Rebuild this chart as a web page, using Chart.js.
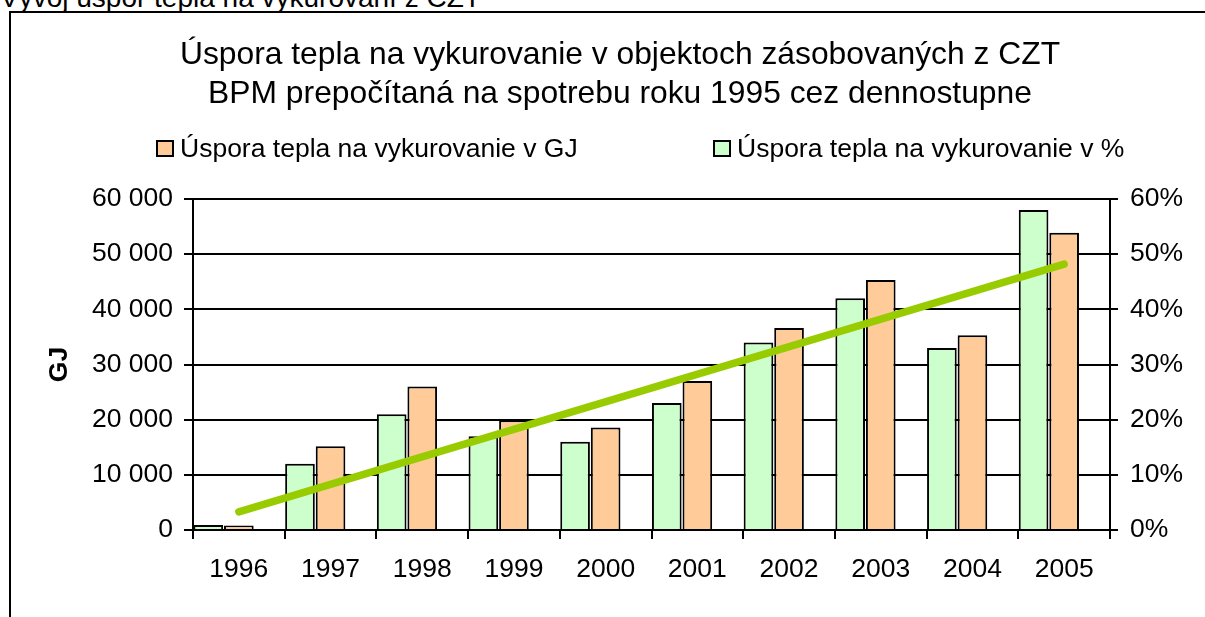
<!DOCTYPE html>
<html>
<head>
<meta charset="utf-8">
<script src="https://cdn.jsdelivr.net/npm/chart.js@4.4.1/dist/chart.umd.min.js"></script>
<style>
html,body{margin:0;padding:0;background:#fff;overflow:hidden;width:1205px;height:617px}
#wrap{position:relative;width:1205px;height:617px;font-family:"Liberation Sans",Arial,sans-serif;color:#000}
#frame{position:absolute;left:9px;top:11px;width:1300px;height:700px;border-left:2px solid #000;border-top:2px solid #000;box-sizing:border-box}
#sheet{position:absolute;left:0px;top:-17px;font-size:28px;line-height:30px;white-space:nowrap}
#c{position:absolute;left:0;top:0}
.lg{position:absolute;font-size:26.5px;line-height:30px;white-space:nowrap;top:133px}
.bx{position:absolute;width:14px;height:13px;border:2px solid #000;top:140px}
</style>
</head>
<body>
<div id="wrap">
  <div id="sheet">Vývoj úspor tepla na vykurovaní z CZT</div>
  <div id="frame"></div>
  <canvas id="c" width="1205" height="617"></canvas>
  <div id="legend"></div>
</div>
<script>
// ---- data ----
const years = ['1996','1997','1998','1999','2000','2001','2002','2003','2004','2005'];
const savingsGJ  = [800, 15200, 26000, 19900, 18600, 27000, 36600, 45300, 35300, 53900];
const savingsPct = [0.9, 12, 21, 17, 16, 23, 34, 42, 33, 58];
const trendGJ    = [3300, null, null, null, null, null, null, null, null, 48200];
const labelGJ  = 'Úspora tepla na vykurovanie v GJ';
const labelPct = 'Úspora tepla na vykurovanie v %';
const titleLines = ['Úspora tepla na vykurovanie v objektoch zásobovaných z CZT',
                    'BPM prepočítaná na spotrebu roku 1995 cez dennostupne'];
const axisTitleLeft = 'GJ';
const gjMax = 60000, gjStep = 10000;
const pctMax = 60, pctStep = 10;

const FONT = '"Liberation Sans", Arial, sans-serif';
const colGJ = '#FFCC99', colPct = '#CCFFCC', colTrend = '#99CC00';

function fmtThousands(v){ return String(v).replace(/\B(?=(\d{3})+(?!\d))/g, ' '); }

Chart.defaults.font.family = FONT;
Chart.defaults.color = '#000';

new Chart(document.getElementById('c'), {
  type: 'bar',
  data: {
    labels: years,
    datasets: [
      { type:'line', label:'Trend', data: trendGJ, yAxisID:'y', borderColor: colTrend, borderWidth:7.5,
        borderCapStyle:'round', pointRadius:0, pointHoverRadius:0, spanGaps:true, fill:false, tension:0, order:-1 },
      { type:'bar', label: labelPct, data: savingsPct, yAxisID:'y1', backgroundColor: colPct,
        borderColor:'#000', borderWidth:2, order:0 },
      { type:'bar', label: labelGJ, data: savingsGJ, yAxisID:'y', backgroundColor: colGJ,
        borderColor:'#000', borderWidth:2, order:0 },
      { type:'bar', label:'', data: [], yAxisID:'y', backgroundColor:'rgba(0,0,0,0)', borderWidth:0, order:0 }
    ]
  },
  options: {
    responsive:false, animation:false, devicePixelRatio:1,
    layout: { padding: { left:35, right:0, top:0, bottom:0 } },
    datasets: { bar: { categoryPercentage:1.0, barPercentage:0.97 } },
    plugins: {
      legend: { display:false },
      tooltip: { enabled:false },
      title: { display:true, text: titleLines, color:'#000',
               font:{ family: FONT, size:31.8, weight:'normal', lineHeight: 38.3/31.8 },
               padding:{ top:36.5, bottom:85.9 } }
    },
    scales: {
      x: {
        offset:true,
        grid:{ display:true, drawOnChartArea:false, drawTicks:true, tickLength:9, color:'#000', lineWidth:2, offset:true },
        border:{ display:true, color:'#000', width:2 },
        ticks:{ color:'#000', font:{ family:FONT, size:26.5 }, padding:15, maxRotation:0, autoSkip:false },
        afterFit: s => { s.height = 87; }
      },
      y: {
        position:'left', min:0, max:gjMax,
        ticks:{ stepSize:gjStep, color:'#000', font:{ family:FONT, size:26.5 }, padding:11, callback: v => fmtThousands(v) },
        grid:{ color:'#000', lineWidth:2, tickLength:9, drawTicks:true },
        border:{ display:true, color:'#000', width:2 },
        title:{ display:true, text: axisTitleLeft, color:'#000', font:{ family:FONT, size:26.5, weight:'bold' }, padding:{ top:9, bottom:0 } },
        afterFit: s => { s.width = 158; }
      },
      y1: {
        position:'right', min:0, max:pctMax,
        ticks:{ stepSize:pctStep, color:'#000', font:{ family:FONT, size:26.5 }, padding:12, callback: v => v + '%' },
        grid:{ drawOnChartArea:false, color:'#000', lineWidth:2, tickLength:8, drawTicks:true },
        border:{ display:true, color:'#000', width:2 },
        afterFit: s => { s.width = 95; }
      }
    }
  }
});

// HTML legend (order as in the reference)
const legendItems = [
  { text: labelGJ,  color: colGJ,  x: 156 },
  { text: labelPct, color: colPct, x: 713 }
];
const lg = document.getElementById('legend');
legendItems.forEach(it => {
  const b = document.createElement('div');
  b.className = 'bx'; b.style.left = it.x + 'px'; b.style.background = it.color;
  const t = document.createElement('div');
  t.className = 'lg'; t.style.left = (it.x + 24) + 'px'; t.textContent = it.text;
  lg.appendChild(b); lg.appendChild(t);
});
</script>
</body>
</html>
